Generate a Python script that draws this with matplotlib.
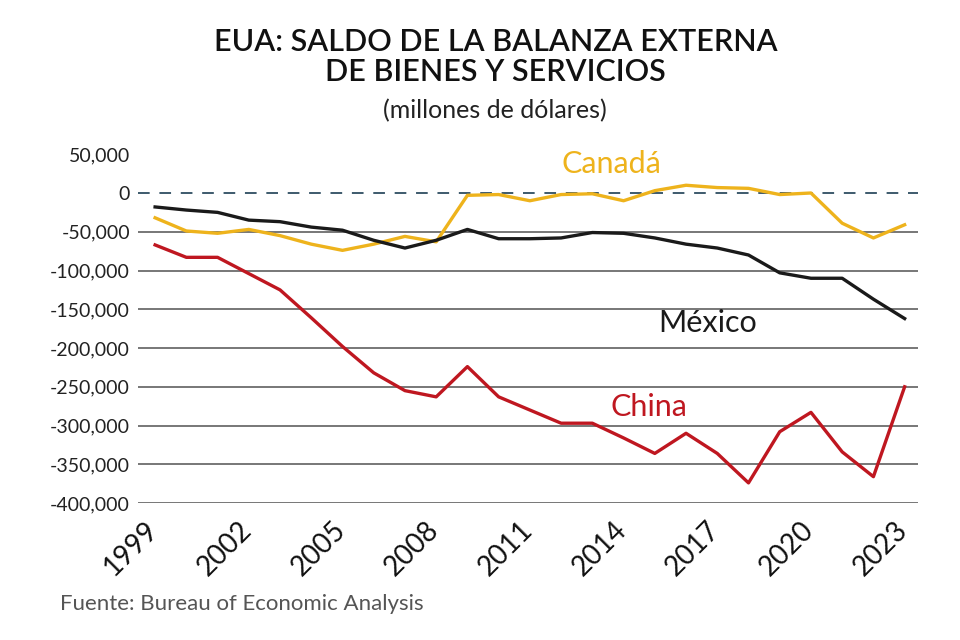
import matplotlib
matplotlib.use("Agg")
import matplotlib.pyplot as plt
import matplotlib.transforms as mtransforms
import numpy as np

years = list(range(1999, 2024))

china = [-67000, -83000, -83000, -104000, -125000, -161000, -198000, -232000,
         -255000, -263000, -224000, -263000, -280000, -297000, -297000, -316000,
         -336000, -310000, -336000, -374000, -308000, -283000, -334000, -366000,
         -250000]
mexico = [-18000, -22000, -25000, -35000, -37000, -44000, -48000, -61000,
          -71000, -61000, -47000, -59000, -59000, -58000, -51000, -52000,
          -58000, -66000, -71000, -80000, -103000, -110000, -110000, -137000,
          -162000]
canada = [-32000, -49000, -52000, -47000, -55000, -66000, -74000, -66000,
          -56000, -63000, -3000, -2000, -10000, -2000, -1000, -10000,
          3000, 10000, 7000, 6000, -2000, 0, -39000, -58000, -41000]

yticks = [50000, 0, -50000, -100000, -150000, -200000, -250000, -300000,
          -350000, -400000]
xticks = [1999, 2002, 2005, 2008, 2011, 2014, 2017, 2020, 2023]

GOLD = '#EEB31C'
RED = '#BF1720'
BLACK = '#1a1a1a'

plt.rcParams['font.family'] = ['Lato', 'DejaVu Sans']

fig = plt.figure(figsize=(9.6, 6.4), dpi=100)
ax = fig.add_axes([0.144, 0.214, 0.812, 0.545])

# grid lines drawn by hand (only negative levels), dashed zero line
for v in yticks:
    if v < 0:
        ax.axhline(v, color='#777777', lw=1.4, zorder=1)
ax.axhline(0, color='#3d5a6c', lw=1.4, ls=(0, (6, 5)), zorder=1)

ax.plot(years, canada, color=GOLD, lw=2.4, zorder=3)
ax.plot(years, mexico, color=BLACK, lw=2.4, zorder=3)
ax.plot(years, china, color=RED, lw=2.4, zorder=3)

ax.set_xlim(1998.46, 2023.42)
ax.set_ylim(-400000, 50000)
ax.set_yticks(yticks)
ax.set_yticklabels(['{:,}'.format(v) for v in yticks], fontsize=14, color='#222222')
ax.set_xticks(xticks)
ax.set_xticklabels([str(y) for y in xticks], rotation=45, ha='right', va='top',
                   fontsize=20, color='#111111')
ax.tick_params(axis='both', length=0)
ax.tick_params(axis='x', pad=10)
ax.tick_params(axis='y', pad=6)
shift = mtransforms.ScaledTranslation(8 / 100, 0, fig.dpi_scale_trans)
for lab in ax.get_xticklabels():
    lab.set_transform(lab.get_transform() + shift)
for s in ax.spines.values():
    s.set_visible(False)

ax.text(2013.6, 38000, 'Canadá', color=GOLD, fontsize=22, ha='center', va='center')
ax.text(2016.7, -168000, 'México', color=BLACK, fontsize=22, ha='center', va='center')
ax.text(2014.8, -276000, 'China', color=RED, fontsize=22, ha='center', va='center')

fig.text(0.516, 0.911, 'EUA: SALDO DE LA BALANZA EXTERNA\nDE BIENES Y SERVICIOS',
         ha='center', va='center', fontsize=22, fontweight='semibold', color='#111111',
         linespacing=1.05)
fig.text(0.515, 0.827, '(millones de dólares)', ha='center', va='center',
         fontsize=18, color='#222222')
fig.text(0.062, 0.056, 'Fuente: Bureau of Economic Analysis', ha='left', va='center',
         fontsize=16, color='#555555')

fig.savefig('out.png', dpi=100)
